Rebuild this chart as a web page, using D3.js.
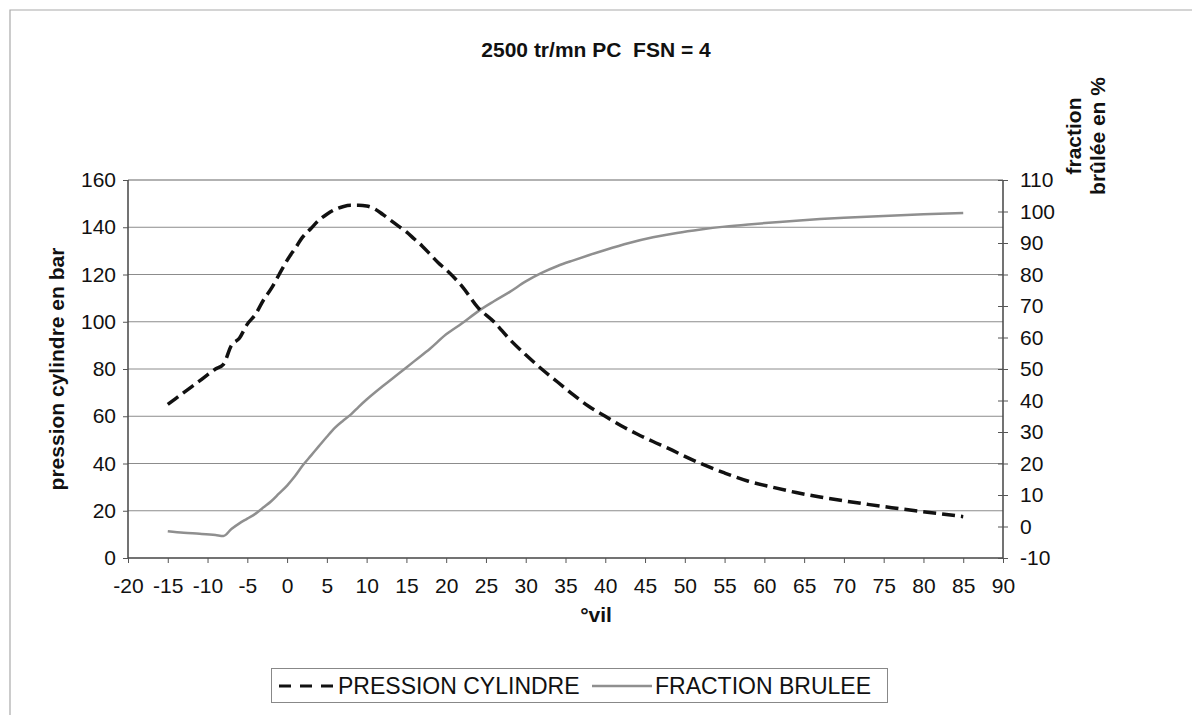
<!DOCTYPE html>
<html><head><meta charset="utf-8">
<script src="https://cdn.jsdelivr.net/npm/d3@7"></script>
<style>
body{margin:0;background:#fff;}
text{font-family:"Liberation Sans",Arial,sans-serif;fill:#111;}
</style></head>
<body><svg id="c" width="1192" height="715"></svg>
<script>
const title = "2500 tr/mn PC  FSN = 4";
const xLabel = "°vil";
const yLeftLabel = "pression cylindre en bar";
const yRightLabel = ["fraction", "brûlée en %"];
const seriesNames = ["PRESSION CYLINDRE", "FRACTION BRULEE"];
const xTicks = d3.range(-20, 91, 5);
const yLeftTicks = d3.range(0, 161, 20);
const yRightTicks = d3.range(-10, 111, 10);

const pressionDeg = [-15,-13,-11,-9,-8,-7,-6,-5,-4,-3,-2,-1,0,1,2,3,4,5,6,7,8,9,10,11,12,13,14,15,16,17,18,19,20,22,24,26,28,30,32,34,36,38,40,42,44,46,48,50,52,55,58,61,64,67,70,73,76,79,82,85];
const pressionVal = [65,70,75,80,82,90,93,99,103,109,114,120,126,131,136,139.5,143,145.5,147.5,148.7,149.3,149.3,149,147.8,145.5,143,140.5,138,135,132,128.5,125,122,115,106,100,92.5,86,80,74.5,69,64,60,56,52.5,49.3,46.3,43,40,36,32.5,30,27.7,25.8,24.2,22.7,21.3,20,18.8,17.5];

const fractionDeg = [-15,-13,-11,-9,-8,-7,-6,-5,-4,-3,-2,-1,0,1,2,3,4,5,6,7,8,9,10,12,14,16,18,20,22,24,26,28,30,32,34,36,38,40,43,46,49,52,55,58,61,64,67,70,75,80,85];
const fractionVal = [-1.5,-2,-2.3,-2.7,-3,-0.8,1,2.5,4,6,8,10.5,13,16,19.5,22.5,25.5,28.5,31.3,33.5,35.5,38,40.3,44.5,48.5,52.5,56.5,61,64.5,68.3,71.5,74.5,77.8,80.5,82.7,84.5,86.2,87.8,90,91.8,93.2,94.3,95.2,95.9,96.5,97.1,97.6,98,98.6,99.1,99.5];

const svg = d3.select("#c");
const L = 128, R = 1003, T = 180, B = 558;
const x = d3.scaleLinear().domain([-20, 90]).range([L, R]);
const yL = d3.scaleLinear().domain([0, 160]).range([B, T]);
const yR = d3.scaleLinear().domain([-10, 110]).range([B, T]);
const fmt = d => String(d);

// outer frame
svg.append("path").attr("d", `M10,715 L10,10 L1192,10`).attr("fill","none").attr("stroke","#aaa").attr("stroke-width",1.2);

// title
svg.append("text").attr("x", 596).attr("y", 57).attr("text-anchor","middle")
  .attr("font-size", 21).attr("font-weight","bold").style("white-space","pre").text(title);

// gridlines
svg.append("g").selectAll("line").data(yLeftTicks.filter(d => d > 0 && d < 160)).join("line")
  .attr("x1", L).attr("x2", R).attr("y1", d => yL(d)).attr("y2", d => yL(d))
  .attr("stroke", "#8c8c8c").attr("stroke-width", 1);

// plot area top border
svg.append("line").attr("x1", L).attr("x2", R).attr("y1", T).attr("y2", T)
  .attr("stroke", "#999").attr("stroke-width", 1.5);

// axes
const axL = d3.axisLeft(yL).tickValues(yLeftTicks).tickFormat(fmt).tickSize(5).tickPadding(7);
const gL = svg.append("g").attr("transform", `translate(${L},0)`).call(axL);
const axB = d3.axisBottom(x).tickValues(xTicks).tickFormat(fmt).tickSize(5).tickPadding(15);
const gB = svg.append("g").attr("transform", `translate(0,${B})`).call(axB);
const axR = d3.axisRight(yR).tickValues(yRightTicks).tickFormat(fmt).tickSize(5).tickPadding(12);
const gR = svg.append("g").attr("transform", `translate(${R},0)`).call(axR);
gR.selectAll(".tick line").attr("x1", -5);
[gL, gB, gR].forEach(g => {
  g.selectAll(".domain").attr("stroke", "#444").attr("stroke-width", 1.5);
  g.selectAll(".tick line").attr("stroke", "#555");
  g.selectAll(".tick text").attr("font-size", 21).attr("font-family", '"Liberation Sans",Arial,sans-serif').attr("fill", "#111");
});
gL.select(".domain").attr("d", `M0,${B}V${T}`);
gR.select(".domain").attr("d", `M0,${B}V${T}`);
gB.select(".domain").attr("d", `M${L},0H${R}`);

// axis labels
svg.append("text").attr("transform", `translate(64,${(T+B)/2}) rotate(-90)`).attr("text-anchor","middle")
  .attr("font-size", 21).attr("font-weight","bold").text(yLeftLabel);
yRightLabel.forEach((t, i) => {
  svg.append("text").attr("transform", `translate(${1081 + i*24},136) rotate(-90)`).attr("text-anchor","middle")
    .attr("font-size", 21).attr("font-weight","bold").text(t);
});
svg.append("text").attr("x", 596).attr("y", 622).attr("text-anchor","middle")
  .attr("font-size", 21).attr("font-weight","bold").text(xLabel);

// series
const lineP = d3.line().x((d,i) => x(pressionDeg[i])).y(d => yL(d)).curve(d3.curveMonotoneX);
const lineF = d3.line().x((d,i) => x(fractionDeg[i])).y(d => yR(d)).curve(d3.curveMonotoneX);
svg.append("path").attr("d", lineF(fractionVal)).attr("fill","none").attr("stroke","#8f8f8f").attr("stroke-width",2.5);
svg.append("path").attr("d", lineP(pressionVal)).attr("fill","none").attr("stroke","#111").attr("stroke-width",3.5)
  .attr("stroke-dasharray","13,6");

// legend
const lg = svg.append("g");
lg.append("rect").attr("x", 271.5).attr("y", 668.5).attr("width", 616).attr("height", 34)
  .attr("fill","#fff").attr("stroke","#888").attr("stroke-width",1);
lg.append("line").attr("x1", 279).attr("x2", 336).attr("y1", 686).attr("y2", 686)
  .attr("stroke","#111").attr("stroke-width",3).attr("stroke-dasharray","12,9");
lg.append("text").attr("x", 338).attr("y", 694).attr("font-size", 23).text(seriesNames[0]);
lg.append("line").attr("x1", 592).attr("x2", 652).attr("y1", 686).attr("y2", 686)
  .attr("stroke","#8f8f8f").attr("stroke-width",2.5);
lg.append("text").attr("x", 655).attr("y", 694).attr("font-size", 23).text(seriesNames[1]);
</script></body></html>
